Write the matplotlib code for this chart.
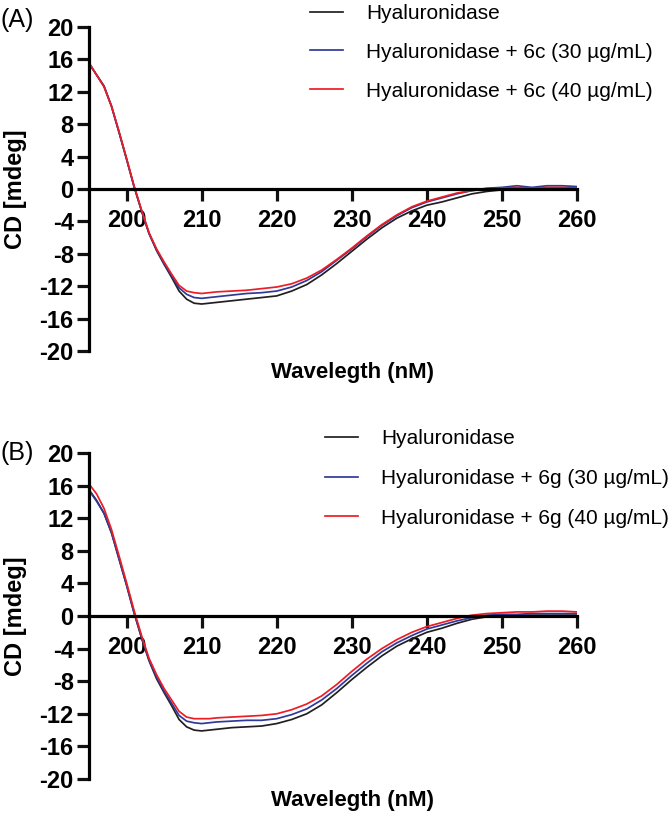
import matplotlib
matplotlib.use('Agg')
import matplotlib.pyplot as plt

plt.rcParams['font.family'] = ['Liberation Sans', 'DejaVu Sans']
plt.rcParams['axes.unicode_minus'] = False

# wavelength grid (nm)
wavelength = [195, 196, 197, 198, 199, 200, 201, 202, 203, 204, 205, 206, 207, 208, 209, 210,
              211, 212, 214, 216, 218, 220, 222, 224, 226, 228, 230, 232, 234, 236, 238, 240,
              242, 244, 246, 248, 250, 252, 254, 256, 258, 260]

# panel A (6c)
a_enzyme = [15.5, 14.1, 12.7, 10.2, 7.0, 3.7, 0.3, -2.7, -5.5, -7.6, -9.3, -10.9, -12.6, -13.6, -14.1, -14.2,
            -14.1, -14.0, -13.8, -13.6, -13.4, -13.2, -12.6, -11.8, -10.6, -9.2, -7.7, -6.2, -4.8, -3.6, -2.7, -2.0,
            -1.6, -1.1, -0.6, -0.3, -0.1, 0.0, 0.0, 0.1, 0.1, 0.1]
a_30 = [15.5, 14.1, 12.7, 10.2, 7.0, 3.7, 0.3, -2.7, -5.5, -7.5, -9.2, -10.7, -12.2, -13.0, -13.4, -13.5,
        -13.4, -13.3, -13.1, -12.9, -12.8, -12.6, -12.1, -11.3, -10.2, -8.8, -7.4, -5.9, -4.5, -3.3, -2.3, -1.6,
        -1.1, -0.6, -0.2, 0.1, 0.2, 0.4, 0.2, 0.4, 0.4, 0.3]
a_40 = [15.6, 14.1, 12.6, 10.2, 7.1, 3.8, 0.4, -2.6, -5.4, -7.4, -9.0, -10.5, -11.9, -12.6, -12.8, -12.9,
        -12.8, -12.7, -12.6, -12.5, -12.3, -12.1, -11.7, -11.0, -10.0, -8.7, -7.3, -5.8, -4.4, -3.2, -2.2, -1.5,
        -1.0, -0.5, -0.2, 0.0, 0.1, 0.2, 0.1, 0.2, 0.2, 0.1]

# panel B (6g)
b_enzyme = [15.5, 14.2, 12.6, 10.2, 7.0, 3.8, 0.4, -2.7, -5.5, -7.7, -9.4, -11.0, -12.7, -13.6, -14.0, -14.1,
            -14.0, -13.9, -13.7, -13.6, -13.5, -13.2, -12.7, -12.0, -10.9, -9.4, -7.8, -6.3, -4.9, -3.7, -2.8, -2.0,
            -1.5, -0.9, -0.4, -0.1, 0.0, 0.1, 0.1, 0.1, 0.1, 0.1]
b_30 = [15.4, 14.1, 12.6, 10.2, 7.0, 3.8, 0.4, -2.6, -5.4, -7.5, -9.2, -10.7, -12.2, -12.9, -13.1, -13.2,
        -13.1, -13.0, -12.9, -12.8, -12.8, -12.6, -12.1, -11.4, -10.3, -8.9, -7.3, -5.8, -4.4, -3.3, -2.4, -1.6,
        -1.1, -0.6, -0.2, 0.1, 0.2, 0.2, 0.3, 0.3, 0.3, 0.3]
b_40 = [16.2, 15.0, 13.2, 10.6, 7.4, 4.1, 0.7, -2.4, -5.2, -7.2, -8.9, -10.3, -11.7, -12.4, -12.6, -12.6,
        -12.6, -12.5, -12.4, -12.3, -12.2, -12.0, -11.5, -10.8, -9.8, -8.4, -6.8, -5.3, -4.0, -2.9, -2.0, -1.3,
        -0.8, -0.3, 0.1, 0.3, 0.4, 0.5, 0.5, 0.6, 0.6, 0.5]

labels_a = ['Hyaluronidase', 'Hyaluronidase + 6c (30 \u00b5g/mL)', 'Hyaluronidase + 6c (40 \u00b5g/mL)']
labels_b = ['Hyaluronidase', 'Hyaluronidase + 6g (30 \u00b5g/mL)', 'Hyaluronidase + 6g (40 \u00b5g/mL)']
colors = ['#231f20', '#2e3a9a', '#ee1c25']

W, H = 669, 813
fig = plt.figure(figsize=(W / 100, H / 100), dpi=100)


def draw_panel(rect, series, labels, tag, tag_y, leg_xy, spacing):
    ax = fig.add_axes(rect)
    for y, lab, c in zip(series, labels, colors):
        ax.plot(wavelength, y, color=c, lw=1.25, label=lab)
    ax.set_xlim(195, 260)
    ax.set_ylim(-20, 20)
    ax.set_xticks(range(200, 261, 10))
    ax.set_yticks(range(-20, 21, 4))
    ax.spines['top'].set_visible(False)
    ax.spines['right'].set_visible(False)
    ax.spines['bottom'].set_position(('data', 0))
    for s in ['left', 'bottom']:
        ax.spines[s].set_linewidth(2.3)
    ax.tick_params(axis='both', width=2.3, length=8.5, labelsize=17, color='#111111')
    ax.tick_params(axis='x', pad=6)
    ax.tick_params(axis='y', pad=2.5)
    for t in ax.get_xticklabels() + ax.get_yticklabels():
        t.set_fontweight('bold')
    ax.set_xlabel('Wavelegth (nM)', fontsize=16, fontweight='bold')
    ax.xaxis.set_label_coords(0.54, -0.033)
    ax.set_ylabel('CD [mdeg]', fontsize=17, fontweight='bold')
    ax.yaxis.set_label_coords(-0.128, 0.5)
    fig.text(0.0, tag_y, tag, fontsize=18, va='center', ha='left')
    ax.legend(loc='upper left', bbox_to_anchor=leg_xy, bbox_transform=fig.transFigure,
              frameon=False, fontsize=15, handlelength=1.6, handletextpad=1.1,
              labelspacing=spacing, borderpad=0, borderaxespad=0)
    return ax


left = 89 / W
width = (577 - 89) / W
draw_panel([left, 1 - 351 / H, width, 324 / H], [a_enzyme, a_30, a_40], labels_a,
           '(A)', 1 - 20 / H, (310 / W, 1 - 4 / H), 0.95)
draw_panel([left, 1 - 779 / H, width, 326 / H], [b_enzyme, b_30, b_40], labels_b,
           '(B)', 1 - 453 / H, (325 / W, 1 - 429 / H), 1.0)

fig.savefig('out.png', dpi=100)
